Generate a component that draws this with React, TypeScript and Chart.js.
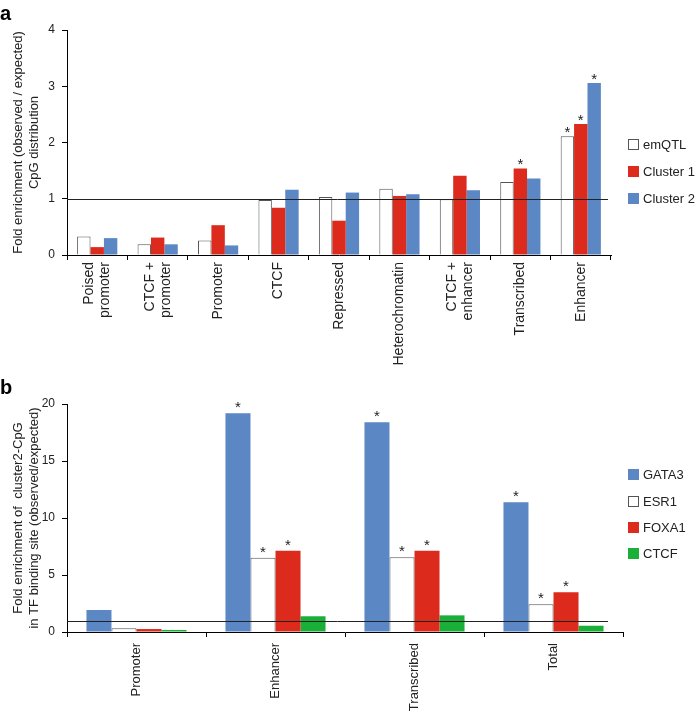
import React, { useEffect, useRef } from "react";
import { Chart, registerables } from "chart.js";

Chart.register(...registerables);

const FONT = '"Liberation Sans", Arial, Helvetica, sans-serif';
Chart.defaults.font.family = FONT;

// ---------- Panel a data ----------
const A_CATEGORIES: string[][] = [
  ["Poised", "promoter"],
  ["CTCF +", "promoter"],
  ["Promoter"],
  ["CTCF"],
  ["Repressed"],
  ["Heterochromatin"],
  ["CTCF +", "enhancer"],
  ["Transcribed"],
  ["Enhancer"],
];
const A_EMQTL = [0.33, 0.19, 0.26, 0.98, 1.03, 1.18, 0.99, 1.3, 2.11];
const A_CLUSTER1 = [0.14, 0.31, 0.53, 0.84, 0.61, 1.05, 1.41, 1.54, 2.33];
const A_CLUSTER2 = [0.3, 0.19, 0.17, 1.16, 1.11, 1.08, 1.15, 1.36, 3.06];
const A_EMQTL_SIG = [false, false, false, false, false, false, false, false, true];
const A_CLUSTER1_SIG = [false, false, false, false, false, false, false, true, true];
const A_CLUSTER2_SIG = [false, false, false, false, false, false, false, false, true];
const A_Y_MAX = 4;
const A_Y_STEP = 1;
const A_Y_TITLE = ["Fold enrichment (observed / expected)", "CpG distribution"];

// ---------- Panel b data ----------
const B_CATEGORIES: string[][] = [["Promoter"], ["Enhancer"], ["Transcribed"], ["Total"]];
const B_GATA3 = [1.93, 19.18, 18.4, 11.38];
const B_ESR1 = [0.32, 6.52, 6.55, 2.43];
const B_FOXA1 = [0.26, 7.13, 7.13, 3.48];
const B_CTCF = [0.18, 1.38, 1.46, 0.55];
const B_GATA3_SIG = [false, true, true, true];
const B_ESR1_SIG = [false, true, true, true];
const B_FOXA1_SIG = [false, true, true, true];
const B_CTCF_SIG = [false, false, false, false];
const B_Y_MAX = 20;
const B_Y_STEP = 5;
const B_Y_TITLE = ["Fold enrichment of  cluster2-CpG", "in TF binding site (observed/expected)"];

const REFERENCE_VALUE = 1;

const BLUE = "#5b87c4";
const RED = "#dc2a1c";
const GREEN = "#1aaf38";
const WHITE_BORDER = "#555555";

type Series = { label: string; data: number[]; sig: boolean[]; color: string; outlined?: boolean };

type PanelProps = {
  top: number;
  height: number;
  categories: string[][];
  series: Series[];
  yMax: number;
  yStep: number;
  yTitle: string[];
  padTop: number;
  padRight: number;
  xAxisHeight: number;
  categoryPercentage: number;
  labelFontSize: number;
  labelGap: number;
  labelLineHeight: number;
  refLineInset: number;
  starLift: number;
};

function BarPanel(p: PanelProps) {
  const ref = useRef<HTMLCanvasElement>(null);
  useEffect(() => {
    const canvas = ref.current;
    if (!canvas) return;

    const extras = {
      id: "extras",
      afterDatasetsDraw(chart: any) {
        const ctx = chart.ctx as CanvasRenderingContext2D;
        const area = chart.chartArea;
        const yS = chart.scales.y;
        // reference line
        const ry = Math.round(yS.getPixelForValue(REFERENCE_VALUE)) + 0.5;
        ctx.save();
        ctx.strokeStyle = "#222";
        ctx.lineWidth = 1;
        ctx.beginPath();
        ctx.moveTo(area.left, ry);
        ctx.lineTo(area.right - p.refLineInset, ry);
        ctx.stroke();
        // significance stars
        ctx.fillStyle = "#222";
        ctx.font = `15px ${FONT}`;
        ctx.textAlign = "center";
        ctx.textBaseline = "alphabetic";
        chart.data.datasets.forEach((ds: any, d: number) => {
          const meta = chart.getDatasetMeta(d);
          meta.data.forEach((el: any, i: number) => {
            if (ds.sig && ds.sig[i]) {
              ctx.fillText("*", el.x, el.y + p.starLift);
            }
          });
        });
        ctx.restore();
      },
      afterDraw(chart: any) {
        const ctx = chart.ctx as CanvasRenderingContext2D;
        const xS = chart.scales.x;
        const yTop = xS.top + p.labelGap;
        ctx.save();
        ctx.fillStyle = "#222";
        ctx.font = `${p.labelFontSize}px ${FONT}`;
        ctx.textAlign = "right";
        ctx.textBaseline = "middle";
        p.categories.forEach((lines, i) => {
          const x = xS.getPixelForValue(i);
          ctx.save();
          ctx.translate(x, yTop);
          ctx.rotate(-Math.PI / 2);
          const n = lines.length;
          lines.forEach((line, k) => {
            ctx.fillText(line, 0, (k - (n - 1) / 2) * p.labelLineHeight);
          });
          ctx.restore();
        });
        ctx.restore();
      },
    };

    const chart = new Chart(canvas, {
      type: "bar",
      data: {
        labels: p.categories.map((c) => c.join(" ")),
        datasets: p.series.map((s) => ({
          label: s.label,
          data: s.data,
          sig: s.sig,
          backgroundColor: s.outlined ? "#ffffff" : s.color,
          borderColor: s.outlined ? WHITE_BORDER : s.color,
          borderWidth: s.outlined ? 1 : 0,
          categoryPercentage: p.categoryPercentage,
          barPercentage: 1.0,
        })) as any,
      },
      options: {
        animation: false,
        responsive: false,
        maintainAspectRatio: false,
        layout: { padding: { top: p.padTop, right: p.padRight, left: 0, bottom: 0 } },
        plugins: { legend: { display: false }, tooltip: { enabled: false } },
        scales: {
          x: {
            grid: {
              display: true,
              drawOnChartArea: false,
              drawTicks: true,
              tickLength: 5,
              offset: true,
              color: "#000",
            },
            border: { display: true, color: "#000", width: 1 },
            ticks: { display: false },
            afterFit: (s: any) => {
              s.height = p.xAxisHeight;
            },
          },
          y: {
            min: 0,
            max: p.yMax,
            ticks: { stepSize: p.yStep, font: { size: 12 }, color: "#222", padding: 7 },
            grid: { drawOnChartArea: false, drawTicks: true, tickLength: 5, color: "#000" },
            border: { display: true, color: "#000", width: 1 },
            title: {
              display: true,
              text: p.yTitle,
              color: "#222",
              font: { size: 13, lineHeight: 1.23 },
              padding: { top: 10, bottom: 0 },
            },
            afterFit: (s: any) => {
              s.width = 67;
            },
          },
        },
      } as any,
      plugins: [extras],
    });
    return () => chart.destroy();
  }, []);
  return (
    <canvas
      ref={ref}
      width={697}
      height={p.height}
      style={{ position: "absolute", left: 0, top: p.top, width: 697, height: p.height }}
    />
  );
}

type LegendItem = { label: string; color: string; outlined?: boolean; cy: number };

function Legend({ items, left }: { items: LegendItem[]; left: number }) {
  return (
    <>
      {items.map((it) => (
        <div
          key={it.label}
          style={{
            position: "absolute",
            left,
            top: it.cy - 8,
            height: 16,
            display: "flex",
            alignItems: "center",
            fontFamily: FONT,
            fontSize: 13,
            color: "#222",
            whiteSpace: "nowrap",
          }}
        >
          <span
            style={{
              display: "inline-block",
              width: 11,
              height: 11,
              boxSizing: "border-box",
              background: it.outlined ? "#fff" : it.color,
              border: it.outlined ? `1px solid ${WHITE_BORDER}` : "none",
              marginRight: 4,
            }}
          />
          <span>{it.label}</span>
        </div>
      ))}
    </>
  );
}

export default function App() {
  const seriesA: Series[] = [
    { label: "emQTL", data: A_EMQTL, sig: A_EMQTL_SIG, color: "#ffffff", outlined: true },
    { label: "Cluster 1", data: A_CLUSTER1, sig: A_CLUSTER1_SIG, color: RED },
    { label: "Cluster 2", data: A_CLUSTER2, sig: A_CLUSTER2_SIG, color: BLUE },
  ];
  const seriesB: Series[] = [
    { label: "GATA3", data: B_GATA3, sig: B_GATA3_SIG, color: BLUE },
    { label: "ESR1", data: B_ESR1, sig: B_ESR1_SIG, color: "#ffffff", outlined: true },
    { label: "FOXA1", data: B_FOXA1, sig: B_FOXA1_SIG, color: RED },
    { label: "CTCF", data: B_CTCF, sig: B_CTCF_SIG, color: GREEN },
  ];
  return (
    <div
      style={{
        position: "absolute",
        left: 0,
        top: 0,
        width: 697,
        height: 712,
        overflow: "hidden",
        background: "#fff",
      }}
    >
      <BarPanel
        top={0}
        height={375}
        categories={A_CATEGORIES}
        series={seriesA}
        yMax={A_Y_MAX}
        yStep={A_Y_STEP}
        yTitle={A_Y_TITLE}
        padTop={30}
        padRight={86}
        xAxisHeight={120}
        categoryPercentage={0.665}
        labelFontSize={14}
        labelGap={7}
        labelLineHeight={16}
        refLineInset={3}
        starLift={1}
      />
      <BarPanel
        top={375}
        height={337}
        categories={B_CATEGORIES}
        series={seriesB}
        yMax={B_Y_MAX}
        yStep={B_Y_STEP}
        yTitle={B_Y_TITLE}
        padTop={29}
        padRight={74}
        xAxisHeight={80}
        categoryPercentage={0.72}
        labelFontSize={13}
        labelGap={11}
        labelLineHeight={16}
        refLineInset={15}
        starLift={-1}
      />
      <Legend
        left={628}
        items={[
          { label: "emQTL", color: "#fff", outlined: true, cy: 144 },
          { label: "Cluster 1", color: RED, cy: 171 },
          { label: "Cluster 2", color: BLUE, cy: 198 },
        ]}
      />
      <Legend
        left={628}
        items={[
          { label: "GATA3", color: BLUE, cy: 474 },
          { label: "ESR1", color: "#fff", outlined: true, cy: 501 },
          { label: "FOXA1", color: RED, cy: 527 },
          { label: "CTCF", color: GREEN, cy: 553 },
        ]}
      />
      <div
        style={{
          position: "absolute",
          left: 0,
          top: 3,
          fontFamily: FONT,
          fontWeight: "bold",
          fontSize: 20,
          lineHeight: "20px",
          color: "#000",
        }}
      >
        a
      </div>
      <div
        style={{
          position: "absolute",
          left: 0,
          top: 377,
          fontFamily: FONT,
          fontWeight: "bold",
          fontSize: 20,
          lineHeight: "20px",
          color: "#000",
        }}
      >
        b
      </div>
    </div>
  );
}
